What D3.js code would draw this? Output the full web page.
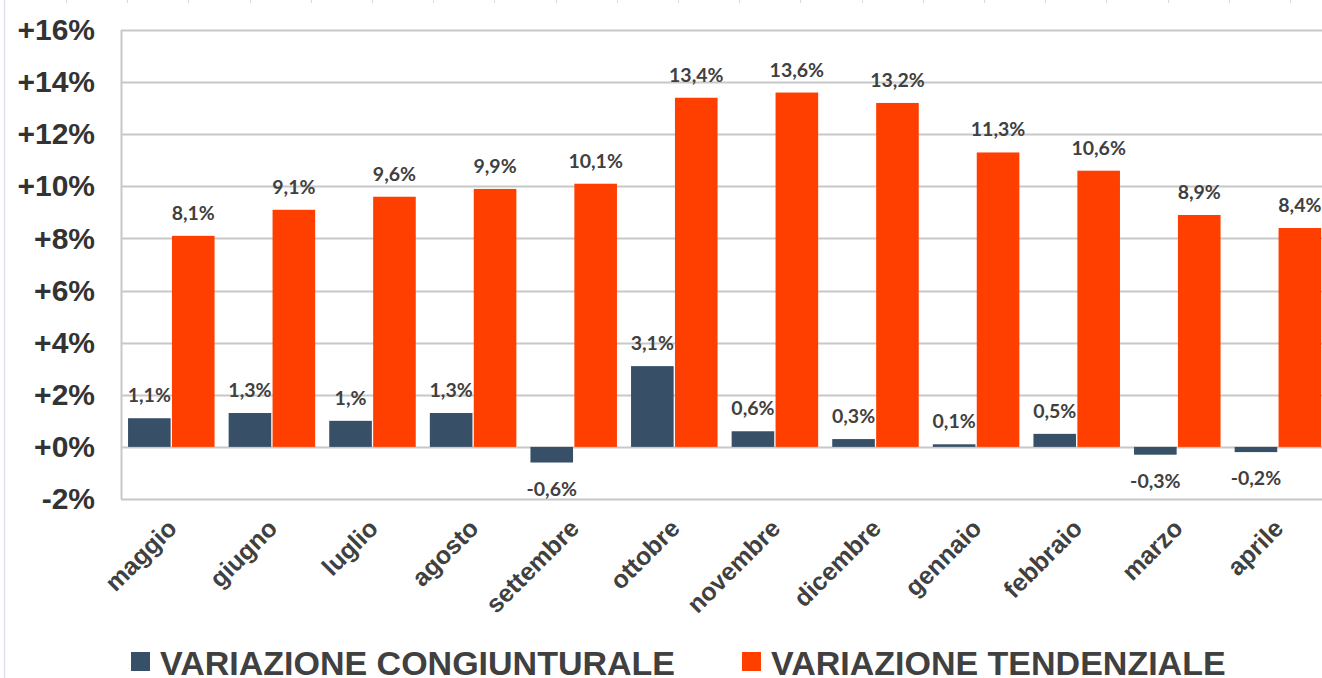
<!DOCTYPE html>
<html lang="it">
<head>
	<meta charset="UTF-8">
	<title>Variazione congiunturale e tendenziale</title>
	<script src="https://cdn.jsdelivr.net/npm/d3@7/dist/d3.min.js"></script>
	<style>
		html, body{
			margin: 0;
			padding: 0;
			background: #fff;
		}
		svg{
			display: block;
		}
	</style>
</head>
<body>
	<div class="chart"></div>
	<script>
		var mesi = ['maggio', 'giugno', 'luglio', 'agosto', 'settembre', 'ottobre', 'novembre', 'dicembre', 'gennaio', 'febbraio', 'marzo', 'aprile'];
		var congiunturale = [1.1, 1.3, 1.0, 1.3, -0.6, 3.1, 0.6, 0.3, 0.1, 0.5, -0.3, -0.2];
		var congLabels = ['1,1%', '1,3%', '1,%', '1,3%', '-0,6%', '3,1%', '0,6%', '0,3%', '0,1%', '0,5%', '-0,3%', '-0,2%'];
		var tendenziale = [8.1, 9.1, 9.6, 9.9, 10.1, 13.4, 13.6, 13.2, 11.3, 10.6, 8.9, 8.4];
		var tendLabels = ['8,1%', '9,1%', '9,6%', '9,9%', '10,1%', '13,4%', '13,6%', '13,2%', '11,3%', '10,6%', '8,9%', '8,4%'];
		var yTicks = [-2, 0, 2, 4, 6, 8, 10, 12, 14, 16];
		var serie = ['VARIAZIONE CONGIUNTURALE', 'VARIAZIONE TENDENZIALE'];

		var width = 1322;
		var height = 678;
		var plot = { left: 121, right: 1322, top: 30, bottom: 499 };
		var colori = ['#375068', '#ff3f00'];
		var textColor = '#404040';

		var svg = d3.select('.chart')
					.append('svg')
					.attr('width', width)
					.attr('height', height);

		// faint frame bits around the picture
		svg.append('line')
			.attr('x1', 4.5).attr('x2', 4.5)
			.attr('y1', 0).attr('y2', height)
			.attr('stroke', '#dde1ee').attr('stroke-width', 1.5);
		for(var tx = 66; tx < width; tx += 61.2){
			svg.append('line')
				.attr('x1', Math.round(tx) + 0.5).attr('x2', Math.round(tx) + 0.5)
				.attr('y1', 0).attr('y2', 3)
				.attr('stroke', '#d6d9ea');
		}

		var yScale = d3.scaleLinear()
						.domain([-2, 16])
						.range([plot.bottom, plot.top]);
		var x0 = d3.scaleBand()
					.domain(mesi)
					.range([plot.left, plot.left + 12 * 100.6])
					.paddingInner(0.14)
					.paddingOuter(0.07);
		var x1 = d3.scaleBand()
					.domain([0, 1])
					.range([0, x0.bandwidth()])
					.paddingInner(0.03);

		// gridlines
		svg.append('g')
			.selectAll('line')
			.data(yTicks)
			.enter()
			.append('line')
			.attr('x1', plot.left)
			.attr('x2', plot.right)
			.attr('y1', function(d){ return Math.round(yScale(d)) + 0.5; })
			.attr('y2', function(d){ return Math.round(yScale(d)) + 0.5; })
			.attr('stroke', '#c8c8c8')
			.attr('stroke-width', 2);
		svg.append('line')
			.attr('x1', plot.left + 0.5).attr('x2', plot.left + 0.5)
			.attr('y1', plot.top).attr('y2', plot.bottom)
			.attr('stroke', '#c8c8c8')
			.attr('stroke-width', 2);

		// y axis
		var yAxis = d3.axisLeft()
						.scale(yScale)
						.tickValues(yTicks)
						.tickSize(0)
						.tickPadding(0)
						.tickFormat(function(d){ return (d < 0 ? '' : '+') + d + '%'; });
		var gy = svg.append('g')
			.attr('transform', 'translate(95,0)')
			.call(yAxis);
		gy.select('.domain').remove();
		gy.selectAll('text')
			.attr('font-family', 'Liberation Sans, Arial, sans-serif')
			.attr('font-weight', 'bold')
			.attr('font-size', '30px')
			.attr('fill', '#333');

		// bars
		var series = [congiunturale, tendenziale];
		series.forEach(function(values, s){
			svg.append('g')
				.selectAll('rect')
				.data(values)
				.enter()
				.append('rect')
				.attr('x', function(d, i){ return x0(mesi[i]) + x1(s); })
				.attr('width', x1.bandwidth())
				.attr('y', function(d){ return yScale(Math.max(d, 0)); })
				.attr('height', function(d){ return Math.abs(yScale(d) - yScale(0)); })
				.attr('fill', colori[s]);
		});

		// value labels
		var labels = [congLabels, tendLabels];
		series.forEach(function(values, s){
			svg.append('g')
				.selectAll('text')
				.data(values)
				.enter()
				.append('text')
				.attr('x', function(d, i){ return x0(mesi[i]) + x1(s) + x1.bandwidth() / 2; })
				.attr('y', function(d){ return d >= 0 ? yScale(d) - 16 : yScale(d) + 33; })
				.attr('text-anchor', 'middle')
				.attr('font-family', 'Lato, Open Sans, sans-serif')
				.attr('font-weight', 'bold')
				.attr('font-size', '19.5px')
				.attr('fill', textColor)
				.text(function(d, i){ return labels[s][i]; });
		});

		// x labels
		svg.append('g')
			.selectAll('text')
			.data(mesi)
			.enter()
			.append('text')
			.attr('transform', function(d){
				return 'translate(' + (x0(d) + x0.bandwidth() / 2 + 7) + ',' + (plot.bottom + 31) + ') rotate(-45)';
			})
			.attr('text-anchor', 'end')
			.attr('font-family', 'Liberation Sans, Arial, sans-serif')
			.attr('font-weight', 'bold')
			.attr('font-size', '25px')
			.attr('fill', textColor)
			.text(function(d){ return d; });

		// legend
		var legendX = [131, 742];
		var legend = svg.append('g')
			.selectAll('g')
			.data(serie)
			.enter()
			.append('g')
			.attr('transform', function(d, i){ return 'translate(' + legendX[i] + ',652)'; });
		legend.append('rect')
			.attr('width', 19)
			.attr('height', 19)
			.attr('fill', function(d, i){ return colori[i]; });
		legend.append('text')
			.attr('x', 29)
			.attr('y', 23)
			.attr('font-family', 'Liberation Sans, Arial, sans-serif')
			.attr('font-weight', 'bold')
			.attr('font-size', '34px')
			.attr('fill', textColor)
			.text(function(d){ return d; });
	</script>
</body>
</html>
